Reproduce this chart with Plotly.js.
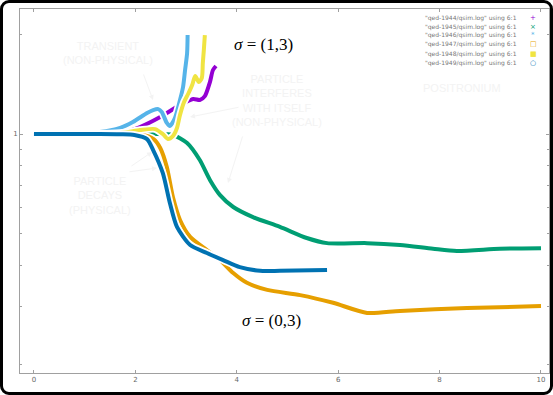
<!DOCTYPE html>
<html>
<head>
<meta charset="utf-8">
<script src="https://cdn.plot.ly/plotly-3.0.1.min.js"></script>
<style>
  html, body { margin: 0; padding: 0; background: #fff; }
  #wrap { position: relative; width: 553px; height: 395px; }
  #chart { width: 553px; height: 395px; }
  #frame { position: absolute; left: 0; top: 0; width: 553px; height: 395px; box-sizing: border-box;
           border: 3px solid #000; border-radius: 9px; pointer-events: none; }
</style>
</head>
<body>
<div id="wrap"><div id="chart"></div><div id="frame"></div></div>
<script>
// ---- data ----
const seriesNames = [
  '"qed-1944/qsim.log" using 6:1',
  '"qed-1945/qsim.log" using 6:1',
  '"qed-1946/qsim.log" using 6:1',
  '"qed-1947/qsim.log" using 6:1',
  '"qed-1948/qsim.log" using 6:1',
  '"qed-1949/qsim.log" using 6:1'
];
const legendSymbols = ['+', '×', '*', '□', '■', '○'];
const colors = ['#9400d3', '#009e73', '#56b4e9', '#e69f00', '#f0e442', '#0072b2'];

const x1944 = [0, 1.70, 2.09, 2.49, 2.88, 3.14, 3.27, 3.37, 3.47, 3.53, 3.59];
const y1944 = [1, 1.007, 1.050, 1.126, 1.224, 1.277, 1.268, 1.303, 1.437, 1.563, 1.607];

const x1945 = [0, 2.29, 2.74, 3.02, 3.27, 3.47, 3.67, 3.93, 4.32, 4.85, 5.38, 5.78, 6.57, 7.22, 7.87, 8.34, 9.19, 10.0];
const y1945 = [1, 1, 0.993, 0.939, 0.834, 0.726, 0.653, 0.601, 0.560, 0.523, 0.484, 0.467, 0.467, 0.461, 0.449, 0.442, 0.449, 0.451];

const x1946 = [0, 1.30, 1.70, 1.95, 2.23, 2.35, 2.45, 2.52, 2.62, 2.68, 2.78, 2.88, 2.94, 2.98, 3.02, 3.03];
const y1946 = [1, 1.014, 1.043, 1.087, 1.158, 1.182, 1.19, 1.166, 1.080, 1.057, 1.118, 1.268, 1.388, 1.563, 1.759, 1.995];

const x1947 = [0, 1.70, 2.10, 2.36, 2.49, 2.62, 2.74, 2.88, 3.08, 3.41, 3.67, 3.93, 4.20, 4.60, 5.25, 5.90, 6.57, 7.22, 8.54, 10.0];
const y1947 = [1, 1, 0.996, 0.965, 0.907, 0.794, 0.644, 0.549, 0.488, 0.445, 0.415, 0.379, 0.354, 0.337, 0.325, 0.308, 0.287, 0.291, 0.297, 0.301];

const x1948 = [0, 1.70, 2.09, 2.39, 2.54, 2.64, 2.74, 2.82, 2.88, 2.96, 3.04, 3.12, 3.18, 3.25, 3.31, 3.33, 3.35, 3.37];
const y1948 = [1, 1.007, 1.028, 1.035, 1.0, 0.966, 0.986, 1.043, 1.142, 1.250, 1.322, 1.407, 1.498, 1.437, 1.478, 1.641, 1.797, 1.995];

const x1949 = [0, 1.30, 1.70, 1.98, 2.23, 2.35, 2.54, 2.68, 2.82, 3.08, 3.41, 3.73, 4.06, 4.46, 4.85, 5.78];
const y1949 = [1, 1, 0.998, 0.993, 0.965, 0.894, 0.762, 0.618, 0.523, 0.461, 0.436, 0.415, 0.395, 0.385, 0.385, 0.387];

const xTicks = [0, 2, 4, 6, 8, 10];
const yMajorTicks = [1];
const yMinorTicks = [0.2, 0.3, 0.4, 0.5, 0.6, 0.7, 0.8, 0.9, 2];

// ---- build ----
const xs = [x1944, x1945, x1946, x1947, x1948, x1949];
const ys = [y1944, y1945, y1946, y1947, y1948, y1949];

const traces = [];
for (let i = 0; i < xs.length; i++) {
  traces.push({x: xs[i], y: ys[i], mode: 'lines', showlegend: false, hoverinfo: 'skip',
               line: {color: '#ffffff', width: 7.5, shape: 'spline', smoothing: 0.7}});
  traces.push({x: xs[i], y: ys[i], mode: 'lines', name: seriesNames[i], showlegend: false,
               line: {color: colors[i], width: 4, shape: 'spline', smoothing: 0.7}});
}

const W = 553, H = 395, L = 20, R = 4, T = 9, B = 22;
const px = v => (v - L) / (W - L - R);
const py = v => (H - B - v) / (H - T - B);

const annotations = [];
// legend as text
for (let i = 0; i < seriesNames.length; i++) {
  const yy = 17.5 + 9 * i;
  annotations.push({xref: 'paper', yref: 'paper', x: px(519), y: py(yy), xanchor: 'right', yanchor: 'middle',
    text: seriesNames[i], showarrow: false, font: {family: 'DejaVu Sans', size: 6, color: '#777'}});
  annotations.push({xref: 'paper', yref: 'paper', x: px(533), y: py(yy), xanchor: 'center', yanchor: 'middle',
    text: legendSymbols[i], showarrow: false, font: {family: 'DejaVu Sans', size: 7, color: colors[i]}});
}
// sigma labels
annotations.push({xref: 'paper', yref: 'paper', x: px(232), y: py(45), xanchor: 'left', yanchor: 'middle',
  text: '<i>σ</i> = (1,3)', showarrow: false, font: {family: 'Liberation Serif', size: 17, color: '#000'}});
annotations.push({xref: 'paper', yref: 'paper', x: px(240), y: py(320), xanchor: 'left', yanchor: 'middle',
  text: '<i>σ</i> = (0,3)', showarrow: false, font: {family: 'Liberation Serif', size: 17, color: '#000'}});
// faint notes
const faint = '#f3f3f3';
const noteFont = {family: 'Liberation Sans', size: 11, color: faint};
annotations.push({xref: 'paper', yref: 'paper', x: px(108), y: py(53), xanchor: 'center', yanchor: 'middle',
  text: 'TRANSIENT<br>(NON-PHYSICAL)', showarrow: false, font: noteFont});
annotations.push({xref: 'paper', yref: 'paper', x: px(277), y: py(100), xanchor: 'center', yanchor: 'middle',
  text: 'PARTICLE<br>INTERFERES<br>WITH ITSELF<br>(NON-PHYSICAL)', showarrow: false, font: noteFont});
annotations.push({xref: 'paper', yref: 'paper', x: px(100), y: py(196), xanchor: 'center', yanchor: 'middle',
  text: 'PARTICLE<br>DECAYS<br>(PHYSICAL)', showarrow: false, font: noteFont});
annotations.push({xref: 'paper', yref: 'paper', x: px(462), y: py(88), xanchor: 'center', yanchor: 'middle',
  text: 'POSITRONIUM', showarrow: false, font: noteFont});
// faint arrows
const arrows = [[143, 73, 153, 100], [240, 107, 190, 117], [243, 135, 228, 183], [128, 172, 157, 168], [130, 167, 152, 152]];
for (const a of arrows) {
  annotations.push({xref: 'paper', yref: 'paper', x: px(a[2]), y: py(a[3]), ax: a[0] - a[2], ay: a[1] - a[3],
    axref: 'pixel', ayref: 'pixel', text: '', showarrow: true, arrowhead: 2, arrowsize: 1, arrowwidth: 1, arrowcolor: faint});
}

const axisCommon = {showgrid: false, zeroline: false, showline: true, linecolor: '#a0a0a0', linewidth: 1,
  mirror: 'allticks', ticks: 'inside', ticklen: 3, tickcolor: '#a0a0a0', tickwidth: 1,
  tickfont: {family: 'DejaVu Sans', size: 7, color: '#666'}};

const layout = {
  width: W, height: H,
  margin: {l: L, r: R, t: T, b: B, pad: 0},
  paper_bgcolor: '#fff', plot_bgcolor: '#fff',
  showlegend: false,
  xaxis: Object.assign({}, axisCommon, {range: [-0.276, 10.158], tickvals: xTicks, ticktext: xTicks.map(String)}),
  yaxis: Object.assign({}, axisCommon, {type: 'log', range: [-0.7242, 0.3788], tickvals: yMajorTicks,
    ticktext: yMajorTicks.map(String),
    minor: {tickvals: yMinorTicks, ticks: 'inside', ticklen: 2, tickcolor: '#a0a0a0', tickwidth: 1}}),
  annotations: annotations
};

Plotly.newPlot('chart', traces, layout, {staticPlot: true, displayModeBar: false});
</script>
</body>
</html>
